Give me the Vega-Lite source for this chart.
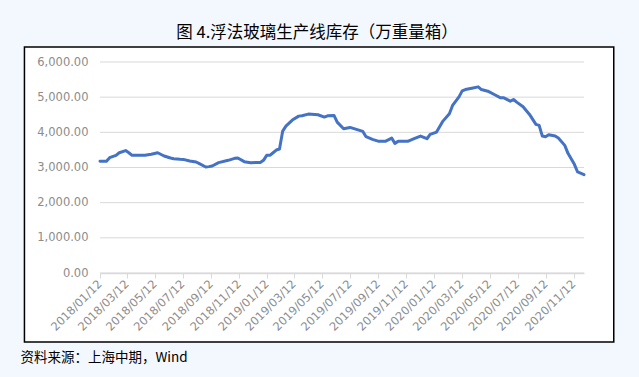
{
  "$schema": "https://vega.github.io/schema/vega-lite/v6.json",
  "autosize": {"type": "none"},
  "width": 484,
  "height": 211,
  "padding": {"left": 100, "top": 62, "right": 55, "bottom": 104},
  "background": "#f3f8fe",
  "config": {"view": {"stroke": null}, "axis": {"labelOverlap": false}},
  "title": {
    "text": "图 4.浮法玻璃生产线库存（万重量箱）",
    "font": "Noto Sans CJK SC",
    "fontSize": 16.5,
    "fontWeight": "normal",
    "color": "#000000",
    "anchor": "middle",
    "dx": -25,
    "offset": 5
  },
  "resolve": {"axis": {"x": "independent", "y": "independent"}},
  "layer": [
    {
      "data": {"values": [{}]},
      "mark": {"type": "rect", "fill": "#ffffff", "stroke": "#000000", "strokeWidth": 1.5, "clip": false},
      "encoding": {
        "x": {"datum": {"year": 2017, "month": 7, "date": 31}, "type": "temporal", "axis": null},
        "x2": {"datum": {"year": 2021, "month": 2, "date": 7}},
        "y": {"datum": 6427, "type": "quantitative", "axis": null},
        "y2": {"datum": -1962}
      }
    },
    {
      "data": {"values": [{"g": 0}, {"g": 1000}, {"g": 2000}, {"g": 3000}, {"g": 4000}, {"g": 5000}, {"g": 6000}]},
      "mark": {"type": "rule", "color": "#d9d9d9", "strokeWidth": 1},
      "encoding": {
        "y": {
          "field": "g",
          "type": "quantitative",
          "scale": {"domain": [0, 6000], "nice": false, "zero": false},
          "axis": {
            "title": null,
            "values": [0, 1000, 2000, 3000, 4000, 5000, 6000],
            "format": ",.2f",
            "grid": false,
            "domain": false,
            "ticks": false,
            "labelOverlap": false,
            "labelPadding": 12,
            "labelFont": "DejaVu Sans",
            "labelFontSize": 11.5,
            "labelColor": "#8c8c8c",
            "zindex": 1
          }
        }
      }
    },
    {
      "data": {
        "values": [
          {"date": "2018/01/12", "value": 3180},
          {"date": "2018/01/26", "value": 3176},
          {"date": "2018/02/02", "value": 3280},
          {"date": "2018/02/16", "value": 3346},
          {"date": "2018/02/23", "value": 3420},
          {"date": "2018/03/09", "value": 3480},
          {"date": "2018/03/16", "value": 3420},
          {"date": "2018/03/23", "value": 3346},
          {"date": "2018/04/06", "value": 3346},
          {"date": "2018/04/20", "value": 3346},
          {"date": "2018/05/04", "value": 3375},
          {"date": "2018/05/18", "value": 3420},
          {"date": "2018/06/01", "value": 3327},
          {"date": "2018/06/15", "value": 3270},
          {"date": "2018/06/22", "value": 3251},
          {"date": "2018/07/06", "value": 3232},
          {"date": "2018/07/13", "value": 3230},
          {"date": "2018/07/27", "value": 3185},
          {"date": "2018/08/10", "value": 3157},
          {"date": "2018/08/17", "value": 3110},
          {"date": "2018/08/31", "value": 3015},
          {"date": "2018/09/07", "value": 3025},
          {"date": "2018/09/14", "value": 3043},
          {"date": "2018/09/28", "value": 3138},
          {"date": "2018/10/19", "value": 3204},
          {"date": "2018/11/02", "value": 3261},
          {"date": "2018/11/09", "value": 3270},
          {"date": "2018/11/23", "value": 3166},
          {"date": "2018/12/07", "value": 3138},
          {"date": "2018/12/21", "value": 3140},
          {"date": "2018/12/28", "value": 3140},
          {"date": "2019/01/04", "value": 3204},
          {"date": "2019/01/11", "value": 3346},
          {"date": "2019/01/18", "value": 3346},
          {"date": "2019/01/25", "value": 3420},
          {"date": "2019/02/01", "value": 3497},
          {"date": "2019/02/08", "value": 3525},
          {"date": "2019/02/15", "value": 4036},
          {"date": "2019/02/22", "value": 4178},
          {"date": "2019/03/08", "value": 4348},
          {"date": "2019/03/22", "value": 4461},
          {"date": "2019/03/29", "value": 4470},
          {"date": "2019/04/12", "value": 4518},
          {"date": "2019/05/03", "value": 4499},
          {"date": "2019/05/17", "value": 4433},
          {"date": "2019/05/24", "value": 4470},
          {"date": "2019/06/07", "value": 4480},
          {"date": "2019/06/14", "value": 4291},
          {"date": "2019/06/28", "value": 4102},
          {"date": "2019/07/12", "value": 4140},
          {"date": "2019/07/26", "value": 4083},
          {"date": "2019/08/09", "value": 4026},
          {"date": "2019/08/16", "value": 3875},
          {"date": "2019/08/30", "value": 3800},
          {"date": "2019/09/13", "value": 3743},
          {"date": "2019/09/27", "value": 3743},
          {"date": "2019/10/11", "value": 3837},
          {"date": "2019/10/18", "value": 3686},
          {"date": "2019/10/25", "value": 3743},
          {"date": "2019/11/15", "value": 3743},
          {"date": "2019/11/29", "value": 3818},
          {"date": "2019/12/13", "value": 3894},
          {"date": "2019/12/27", "value": 3818},
          {"date": "2020/01/03", "value": 3941},
          {"date": "2020/01/17", "value": 4008},
          {"date": "2020/01/31", "value": 4319},
          {"date": "2020/02/14", "value": 4527},
          {"date": "2020/02/21", "value": 4764},
          {"date": "2020/03/06", "value": 5009},
          {"date": "2020/03/13", "value": 5180},
          {"date": "2020/03/20", "value": 5217},
          {"date": "2020/04/03", "value": 5255},
          {"date": "2020/04/17", "value": 5293},
          {"date": "2020/04/24", "value": 5217},
          {"date": "2020/05/08", "value": 5170},
          {"date": "2020/05/22", "value": 5076},
          {"date": "2020/06/05", "value": 4981},
          {"date": "2020/06/12", "value": 4981},
          {"date": "2020/06/26", "value": 4887},
          {"date": "2020/07/03", "value": 4934},
          {"date": "2020/07/10", "value": 4858},
          {"date": "2020/07/24", "value": 4726},
          {"date": "2020/08/07", "value": 4509},
          {"date": "2020/08/21", "value": 4225},
          {"date": "2020/08/28", "value": 4197},
          {"date": "2020/09/04", "value": 3894},
          {"date": "2020/09/11", "value": 3875},
          {"date": "2020/09/18", "value": 3932},
          {"date": "2020/10/02", "value": 3894},
          {"date": "2020/10/09", "value": 3837},
          {"date": "2020/10/23", "value": 3629},
          {"date": "2020/10/30", "value": 3403},
          {"date": "2020/11/13", "value": 3091},
          {"date": "2020/11/20", "value": 2873},
          {"date": "2020/12/04", "value": 2798}
        ]
      },
      "mark": {"type": "line", "color": "#4472c4", "strokeWidth": 3, "strokeJoin": "round", "strokeCap": "round"},
      "encoding": {
        "x": {
          "field": "date",
          "type": "temporal",
          "scale": {
            "domain": [{"year": 2018, "month": 1, "date": 12}, {"year": 2020, "month": 12, "date": 4}],
            "nice": false
          },
          "axis": {
            "values": [
              {"year": 2018, "month": 1, "date": 12}, {"year": 2018, "month": 3, "date": 12},
              {"year": 2018, "month": 5, "date": 12}, {"year": 2018, "month": 7, "date": 12},
              {"year": 2018, "month": 9, "date": 12}, {"year": 2018, "month": 11, "date": 12},
              {"year": 2019, "month": 1, "date": 12}, {"year": 2019, "month": 3, "date": 12},
              {"year": 2019, "month": 5, "date": 12}, {"year": 2019, "month": 7, "date": 12},
              {"year": 2019, "month": 9, "date": 12}, {"year": 2019, "month": 11, "date": 12},
              {"year": 2020, "month": 1, "date": 12}, {"year": 2020, "month": 3, "date": 12},
              {"year": 2020, "month": 5, "date": 12}, {"year": 2020, "month": 7, "date": 12},
              {"year": 2020, "month": 9, "date": 12}, {"year": 2020, "month": 11, "date": 12}
            ],
            "format": "%Y/%m/%d",
            "labelAngle": -45,
            "labelAlign": "right",
            "labelBaseline": "middle",
            "labelOverlap": false,
            "labelFlush": false,
            "labelPadding": 4,
            "labelFont": "DejaVu Sans",
            "labelFontSize": 11.5,
            "labelColor": "#8c8c8c",
            "grid": false,
            "domain": true,
            "domainColor": "#d9d9d9",
            "domainWidth": 1.5,
            "ticks": true,
            "tickColor": "#d9d9d9",
            "tickSize": 5,
            "zindex": 1,
            "title": "资料来源：上海中期，Wind",
            "titleFont": "Noto Sans CJK SC",
            "titleFontSize": 13.5,
            "titleFontWeight": "normal",
            "titleColor": "#000000",
            "titleAngle": 0,
            "titleAlign": "left",
            "titleBaseline": "middle",
            "titleX": -80,
            "titleY": 84
          }
        },
        "y": {"field": "value", "type": "quantitative", "axis": null}
      }
    }
  ]
}
